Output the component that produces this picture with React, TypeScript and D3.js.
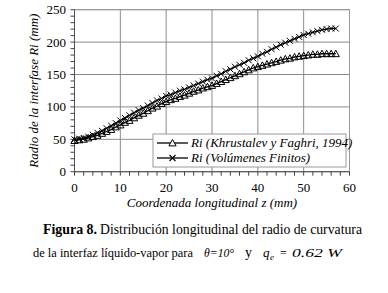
import React from "react";
import * as d3 from "d3";

const zValues = d3.range(0, 58);
const riVolumenes = [50,51,52,54,57,60,63,67,71,75,79,83,87,91,95,98,102,106,110,113,117,119,122,125,127,130,133,136,139,142,144,148,151,155,158,162,165,168,172,175,178,182,185,189,192,196,199,202,205,208,211,213,215,217,219,220,221,221];
const riKhrustalev = [48,49,50,52,54,56,59,62,65,69,72,76,79,83,87,90,94,98,101,105,108,111,113,116,118,121,124,126,129,131,133,136,139,142,145,148,151,154,157,160,162,164,166,168,170,172,174,175,177,178,179,180,181,181,182,182,182,182];
const xTicks = [0, 10, 20, 30, 40, 50, 60];
const yTicks = [0, 50, 100, 150, 200, 250];
const legendLabels = ["Ri (Khrustalev y Faghri, 1994)", "Ri (Volúmenes Finitos)"];

const W = 388, H = 293;
const L = 74.5, R = 349.5, T = 9.7, B = 171.7;
const serif = "Liberation Serif, Times New Roman, serif";

export default function App() {
  const x = d3.scaleLinear().domain([0, 60]).range([L, R]);
  const y = d3.scaleLinear().domain([0, 250]).range([B, T]);
  const line = d3.line<number>().x((_, i) => x(zValues[i])).y((d) => y(d));
  const minorX = d3.range(0, 61, 2);
  const minorY = d3.range(0, 251, 10);
  const tri = (cx: number, cy: number, s = 3.6) =>
    `M${cx},${cy - s}L${cx + s},${cy + s * 0.8}L${cx - s},${cy + s * 0.8}Z`;
  const cross = (cx: number, cy: number, s = 3) =>
    `M${cx - s},${cy - s}L${cx + s},${cy + s}M${cx - s},${cy + s}L${cx + s},${cy - s}`;
  const grid = "#8c8c8c";
  const tf = { fontFamily: serif };
  return (
    <svg width={W} height={H} style={{ position: "absolute", left: 0, top: 0, background: "#fff", fontFamily: serif }}>
      <rect x={0} y={0} width={W} height={H} fill="#fff" />
      {xTicks.map((t) => (
        <line key={"gx" + t} x1={x(t)} x2={x(t)} y1={T} y2={B} stroke={grid} strokeWidth={1} />
      ))}
      {yTicks.map((t) => (
        <line key={"gy" + t} x1={L} x2={R} y1={y(t)} y2={y(t)} stroke={grid} strokeWidth={1} />
      ))}
      <rect x={L} y={T} width={R - L} height={B - T} fill="none" stroke="#9a9a9a" strokeWidth={1} />
      <line x1={L} x2={L} y1={T} y2={B} stroke="#555" strokeWidth={1} />
      <line x1={L} x2={R} y1={B} y2={B} stroke="#555" strokeWidth={1} />
      {minorX.map((t) => (
        <line key={"mx" + t} x1={x(t)} x2={x(t)} y1={B} y2={B + 4} stroke="#444" strokeWidth={1} />
      ))}
      {minorY.map((t) => (
        <line key={"my" + t} x1={L - 4} x2={L} y1={y(t)} y2={y(t)} stroke="#444" strokeWidth={1} />
      ))}
      {xTicks.map((t) => (
        <text key={"tx" + t} x={x(t)} y={191.5} textAnchor="middle" style={tf} fontSize={13} fill="#000">{t}</text>
      ))}
      {yTicks.map((t) => (
        <text key={"ty" + t} x={66} y={y(t) + 4.5} textAnchor="end" style={tf} fontSize={13} fill="#000">{t}</text>
      ))}
      <path d={line(riKhrustalev) || ""} fill="none" stroke="#000" strokeWidth={1.3} />
      <path d={line(riVolumenes) || ""} fill="none" stroke="#000" strokeWidth={1.3} />
      {riKhrustalev.map((v, i) => (
        <path key={"k" + i} d={tri(x(zValues[i]), y(v))} fill="none" stroke="#000" strokeWidth={1} />
      ))}
      {riVolumenes.map((v, i) => (
        <path key={"v" + i} d={cross(x(zValues[i]), y(v))} fill="none" stroke="#000" strokeWidth={1} />
      ))}
      <g>
        <rect x={153} y={134} width={193} height={33} fill="#fff" stroke="#9a9a9a" strokeWidth={1} />
        <line x1={157} x2={188} y1={143} y2={143} stroke="#000" strokeWidth={1.3} />
        <path d={tri(172.5, 143)} fill="#fff" stroke="#000" strokeWidth={1} />
        <text x={191} y={147} style={tf} fontStyle="italic" fontSize={13} fill="#000">{legendLabels[0]}</text>
        <line x1={157} x2={188} y1={158} y2={158} stroke="#000" strokeWidth={1.3} />
        <path d={cross(172.5, 158)} fill="none" stroke="#000" strokeWidth={1.1} />
        <text x={191} y={162} style={tf} fontStyle="italic" fontSize={13} fill="#000">{legendLabels[1]}</text>
      </g>
      <text transform={`translate(38,${(T + B) / 2}) rotate(-90)`} textAnchor="middle" style={tf} fontStyle="italic" fontSize={13} fill="#000">
        Radio de la interfase Ri (mm)
      </text>
      <text x={212} y={207} textAnchor="middle" style={tf} fontStyle="italic" fontSize={13} fill="#000">
        Coordenada longitudinal z (mm)
      </text>
      <text x={43} y={234} style={tf} fontSize={14} fontWeight="bold" fill="#000" textLength={54} lengthAdjust="spacingAndGlyphs">
        Figura 8.
      </text>
      <text x={100} y={234} style={tf} fontSize={14} fill="#000" textLength={262} lengthAdjust="spacingAndGlyphs">
        Distribución longitudinal del radio de curvatura
      </text>
      <text x={33} y={257} style={tf} fontSize={13} fill="#000" textLength={160} lengthAdjust="spacingAndGlyphs">
        de la interfaz líquido-vapor para
      </text>
      <text x={204} y={257} style={tf} fontSize={12} fontStyle="italic" fill="#000" textLength={30} lengthAdjust="spacingAndGlyphs">
        θ=10°
      </text>
      <text x={245} y={257} style={tf} fontSize={14} fill="#000">y</text>
      <text x={263} y={257} style={tf} fontSize={13} fontStyle="italic" fill="#000">q</text>
      <text x={270} y={259.5} style={tf} fontSize={9} fontStyle="italic" fill="#000">e</text>
      <text x={280} y={257} style={tf} fontSize={12} fill="#000">=</text>
      <text x={292} y={257} style={tf} fontSize={13} fontStyle="italic" fill="#000" textLength={50} lengthAdjust="spacingAndGlyphs">
        0.62 W
      </text>
    </svg>
  );
}
